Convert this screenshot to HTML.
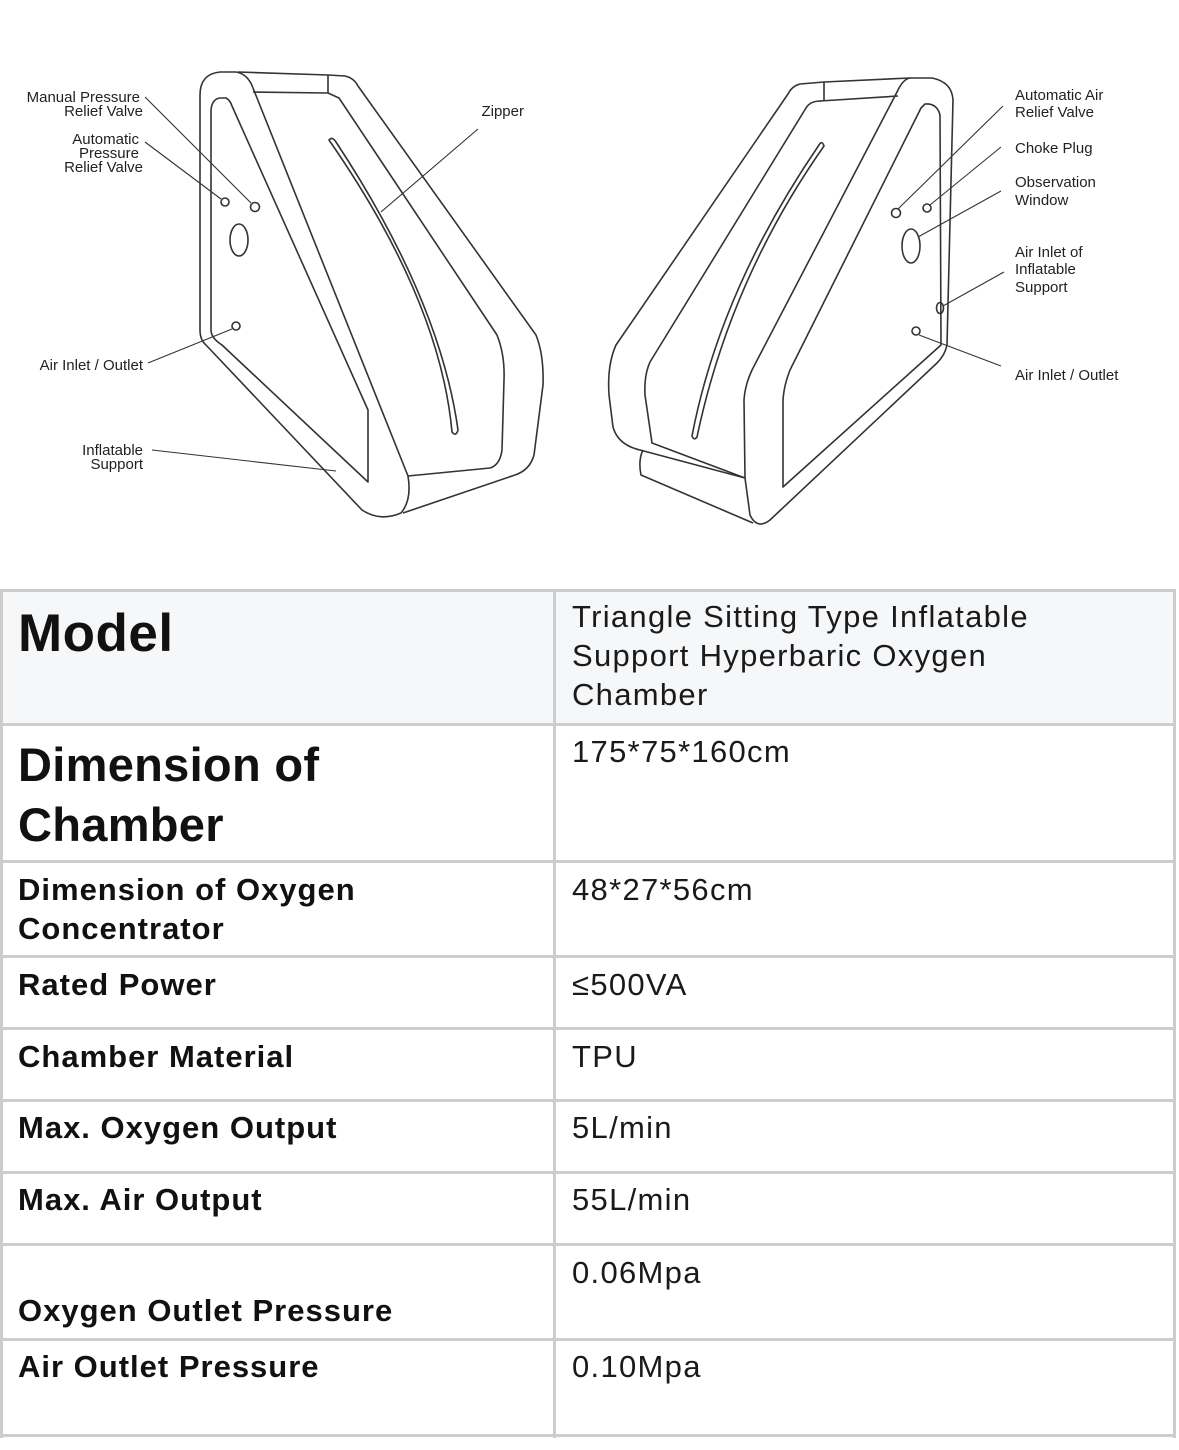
<!DOCTYPE html>
<html><head><meta charset="utf-8"><style>
*{margin:0;padding:0;box-sizing:border-box}
body{width:1179px;height:1450px;background:#fff;position:relative;overflow:hidden;font-family:"Liberation Sans",sans-serif;color:#111}
.h{position:absolute;left:0;width:1176px;height:3px;background:#cdcdcd}
.v{position:absolute;top:590px;width:3px;height:848px;background:#cdcdcd}
.t{position:absolute;white-space:nowrap}
.b{font-weight:bold;font-size:31px;line-height:39px;left:18px;letter-spacing:1px}
.r{font-size:31px;line-height:39px;left:572px;letter-spacing:1.3px;color:#1a1a1a}
svg text{font-family:"Liberation Sans",sans-serif;font-size:15px;fill:#222}
</style></head><body>
<svg width="1179" height="560" style="position:absolute;left:0;top:0" fill="none" stroke="#333" stroke-width="1.6" stroke-linejoin="round">
<path d="M200,95 Q200,74 220,72 L236,72 Q248,74 253,88 L408,476 Q412,500 401,513 Q380,522 362,510 L206,345 Q200,340 200,330 Z"/>
<path d="M211,110 Q212,99 220,98 L226,98 Q230,100 232,106 L368,410 L368,482 L222,345 Q211,338 211,330 Z"/>
<path d="M328,75 L345,76 Q354,78 358,86 L536,335 Q544,355 543,385 L534,455 Q530,470 515,475 L403,513"/>
<path d="M253,92 L328,93"/><path d="M238,72 L328,75"/><path d="M328,75 L328,93"/>
<path d="M328,93 L339,98 L497,335 Q505,355 504,380 L502,450 Q500,465 490,468 L408,476"/>
<path d="M329,140 Q332,136 336,142 Q440,300 458,430 Q456,437 452,432 Q440,300 329,140 Z"/>
<circle cx="225" cy="202" r="4"/><circle cx="255" cy="207" r="4.5"/><ellipse cx="239" cy="240" rx="9" ry="16"/><circle cx="236" cy="326" r="4"/>
<g stroke-width="1.1">
<path d="M145,97 L251,203"/><path d="M145,142 L221,199"/><path d="M478,129 L381,212"/><path d="M148,363 L232,329"/><path d="M152,450 L336,471"/>
</g>
<g stroke="none" text-anchor="end">
<text x="140" y="102">Manual Pressure</text><text x="143" y="116">Relief Valve</text>
<text x="139" y="144">Automatic</text><text x="139" y="158">Pressure</text><text x="143" y="172">Relief Valve</text>
<text x="143" y="370">Air Inlet / Outlet</text>
<text x="143" y="455">Inflatable</text><text x="143" y="469">Support</text>
<text x="524" y="116">Zipper</text>
</g>
<path d="M910,78 L932,78 Q952,82 953,100 L947,345 Q945,355 937,363 L770,520 Q757,530 750,515 L745,478 L744,400 Q745,385 752,370 L897,92 Q903,79 910,78 Z"/>
<path d="M925,104 Q937,103 940,115 L941,345 L783,487 L783,400 Q784,385 790,370 L921,108 Z"/>
<path d="M910,78 L824,82 L800,84 Q792,86 788,94 L616,345 Q607,365 609,395 L613,427 Q618,445 640,450 L745,478"/>
<path d="M824,82 L824,100"/><path d="M820,101 L898,96"/>
<path d="M821,101 Q810,101 806,108 L650,362 Q644,375 645,395 L652,443 L745,478"/>
<path d="M643,450 Q638,460 641,475 L753,523"/>
<path d="M819,145 Q822,140 824,146 Q730,280 697,437 Q694,441 692,436 Q720,290 819,145 Z"/>
<circle cx="896" cy="213" r="4.5"/><circle cx="927" cy="208" r="4"/><ellipse cx="911" cy="246" rx="9" ry="17"/><ellipse cx="940" cy="308" rx="3.5" ry="5.5"/><circle cx="916" cy="331" r="4"/>
<g stroke-width="1.1">
<path d="M1003,106 L898,209"/><path d="M1001,147 L930,205"/><path d="M1001,191 L918,237"/><path d="M1004,272 L943,306"/><path d="M919,335 L1001,366"/>
</g>
<g stroke="none">
<text x="1015" y="100">Automatic Air</text><text x="1015" y="117">Relief Valve</text>
<text x="1015" y="153">Choke Plug</text>
<text x="1015" y="187">Observation</text><text x="1015" y="205">Window</text>
<text x="1015" y="257">Air Inlet of</text><text x="1015" y="274">Inflatable</text><text x="1015" y="292">Support</text>
<text x="1015" y="380">Air Inlet / Outlet</text>
</g>
</svg>

<div style="position:absolute;left:0;top:590px;width:1176px;height:135px;background:#f6f7f9"></div>
<div class="h" style="top:589px"></div><div class="h" style="top:723px"></div><div class="h" style="top:860px"></div>
<div class="h" style="top:955px"></div><div class="h" style="top:1027px"></div><div class="h" style="top:1099px"></div>
<div class="h" style="top:1171px"></div><div class="h" style="top:1243px"></div><div class="h" style="top:1338px"></div>
<div class="h" style="top:1434px"></div>
<div class="v" style="left:0"></div><div class="v" style="left:553px"></div><div class="v" style="left:1173px"></div>

<div class="t" style="left:18px;top:603px;font-size:53px;font-weight:bold;line-height:62px;letter-spacing:0.5px">Model</div>
<div class="t r" style="top:597px">Triangle Sitting Type Inflatable<br>Support Hyperbaric Oxygen<br>Chamber</div>
<div class="t" style="left:18px;top:735px;font-size:47px;font-weight:bold;line-height:60px;letter-spacing:0.3px">Dimension of<br>Chamber</div>
<div class="t r" style="top:732px">175*75*160cm</div>
<div class="t b" style="top:870px">Dimension of Oxygen<br>Concentrator</div>
<div class="t r" style="top:870px">48*27*56cm</div>
<div class="t b" style="top:965px">Rated Power</div><div class="t r" style="top:965px">≤500VA</div>
<div class="t b" style="top:1037px">Chamber Material</div><div class="t r" style="top:1037px">TPU</div>
<div class="t b" style="top:1108px">Max. Oxygen Output</div><div class="t r" style="top:1108px">5L/min</div>
<div class="t b" style="top:1180px">Max. Air Output</div><div class="t r" style="top:1180px">55L/min</div>
<div class="t b" style="top:1291px">Oxygen Outlet Pressure</div><div class="t r" style="top:1253px">0.06Mpa</div>
<div class="t b" style="top:1347px">Air Outlet Pressure</div><div class="t r" style="top:1347px">0.10Mpa</div>
</body></html>
